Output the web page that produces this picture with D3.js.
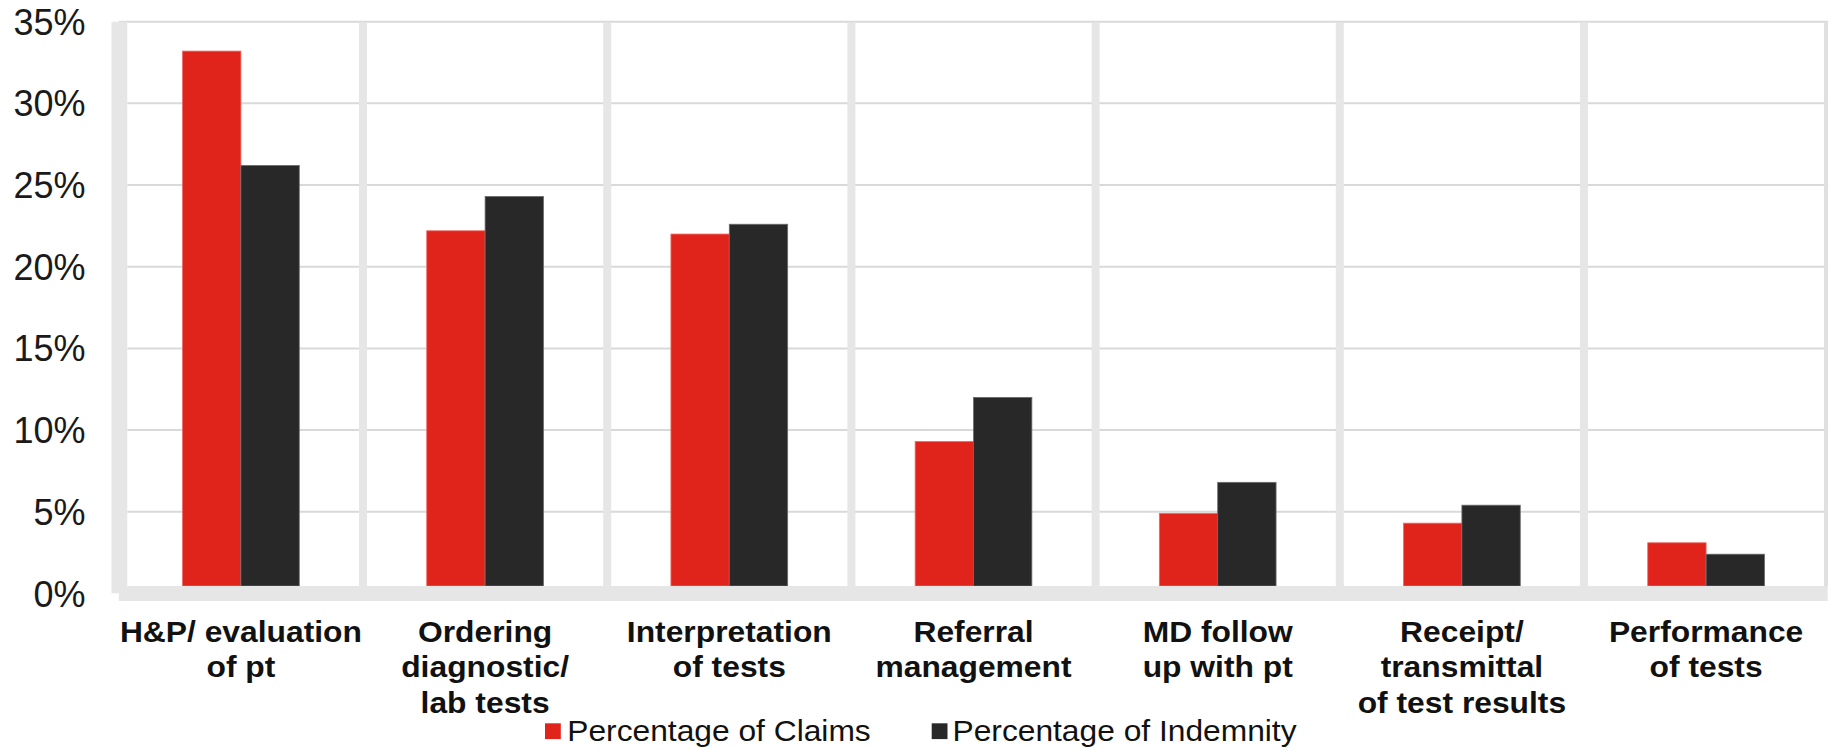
<!DOCTYPE html>
<html>
<head>
<meta charset="utf-8">
<script src="https://cdn.jsdelivr.net/npm/d3@7"></script>
<style>
  html, body { margin: 0; padding: 0; background: #ffffff; }
  svg { display: block; }
  text { font-family: "Liberation Sans", Arial, Helvetica, sans-serif; }
</style>
</head>
<body>
<svg id="chart" width="1829" height="750"></svg>
<script>
// ---- data ----
const categories = [
  ["H&P/ evaluation", "of pt"],
  ["Ordering", "diagnostic/", "lab tests"],
  ["Interpretation", "of tests"],
  ["Referral", "management"],
  ["MD follow", "up with pt"],
  ["Receipt/", "transmittal", "of test results"],
  ["Performance", "of tests"]
];
const claims    = [33.2, 22.2, 22.0, 9.3, 4.9, 4.3, 3.1];
const indemnity = [26.2, 24.3, 22.6, 12.0, 6.8, 5.4, 2.4];
const seriesNames = ["Percentage of Claims", "Percentage of Indemnity"];
const yTicks = [0, 5, 10, 15, 20, 25, 30, 35];

// ---- layout ----
const W = 1829, H = 750;
const plotLeft = 118.8, plotRight = 1828.2;
const yTop = 21.7, yZero = 593.4;
const floorTop = 586, floorBottom = 601;
const wallColor = "#e6e6e6", gridColor = "#d9d9d9";
const colors = ["#e1241b", "#282828"];

const svg = d3.select("#chart");

const x = d3.scaleBand().domain(d3.range(categories.length)).range([plotLeft, plotRight]).padding(0);
const barW = x.bandwidth() * 0.239;
const xs = d3.scaleBand().domain([0, 1]).range([-barW, barW]).padding(0);
const y = d3.scaleLinear().domain([0, 35]).range([yZero, yTop]);

// horizontal gridlines
svg.append("g").selectAll("line")
  .data(yTicks.filter(t => t > 0))
  .join("line")
  .attr("x1", d => d === 35 ? plotLeft : 127.3)
  .attr("x2", plotRight)
  .attr("y1", d => y(d)).attr("y2", d => y(d))
  .attr("stroke", gridColor).attr("stroke-width", 2);

// vertical category dividers
svg.append("g").selectAll("rect")
  .data(d3.range(1, categories.length))
  .join("rect")
  .attr("x", i => x(i) - 4)
  .attr("width", 8)
  .attr("y", y(35) + 1)
  .attr("height", floorTop - y(35) - 1)
  .attr("fill", wallColor);

// right wall edge
svg.append("rect")
  .attr("x", 1824).attr("width", 4)
  .attr("y", y(35)).attr("height", floorTop - y(35))
  .attr("fill", "#e0e0e0");

// bars
const seriesData = [claims, indemnity];
const groups = svg.append("g").selectAll("g")
  .data(categories.map((c, i) => i))
  .join("g")
  .attr("transform", i => `translate(${x(i) + x.bandwidth() / 2},0)`);

groups.selectAll("rect")
  .data(i => seriesData.map((s, k) => ({ k, v: s[i] })))
  .join("rect")
  .attr("x", d => xs(d.k))
  .attr("width", xs.bandwidth())
  .attr("y", d => y(d.v))
  .attr("height", d => floorTop - y(d.v))
  .attr("fill", d => colors[d.k])
  .attr("stroke", d => d.k === 1 ? "#6a6a6a" : "#ec6a63")
  .attr("stroke-width", 0.8);

// floor
svg.append("rect")
  .attr("x", plotLeft).attr("width", plotRight - plotLeft - 0.5)
  .attr("y", floorTop).attr("height", floorBottom - floorTop)
  .attr("fill", wallColor);

// left wall
svg.append("rect")
  .attr("x", 111.5).attr("width", 15.8)
  .attr("y", yTop).attr("height", 593.3 - yTop)
  .attr("fill", wallColor);

// y axis labels
const yAxis = d3.axisLeft(y).tickValues(yTicks).tickFormat(d => d + "%").tickSize(0).tickPadding(0);
const ya = svg.append("g").attr("transform", "translate(85.5,0)").call(yAxis);
ya.select(".domain").remove();
ya.selectAll("text")
  .style("font-family", '"Liberation Sans", Arial, sans-serif')
  .style("font-size", "36px")
  .attr("fill", "#1a1a1a")
  .attr("dy", "0.35em");

// category labels
const lineBase = [641.7, 677.5, 713.3];
const lab = svg.append("g").selectAll("g")
  .data(categories.map((c, i) => ({ c, i })))
  .join("g")
  .attr("transform", d => `translate(${x(d.i) + x.bandwidth() / 2},0) scale(1.06,1)`);
lab.append("text")
  .attr("text-anchor", "middle")
  .style("font-size", "30px")
  .style("font-weight", "bold")
  .attr("fill", "#111")
  .selectAll("tspan")
  .data(d => d.c)
  .join("tspan")
  .attr("x", 0)
  .attr("y", (t, j) => lineBase[j])
  .text(t => t);

// legend
const legendItems = [
  { name: seriesNames[0], color: colors[0], sx: 545, tx: 567.3 },
  { name: seriesNames[1], color: colors[1], sx: 931.7, tx: 952.5 }
];
const lg = svg.append("g").selectAll("g").data(legendItems).join("g");
lg.append("rect")
  .attr("x", d => d.sx).attr("y", 723.3)
  .attr("width", 15.8).attr("height", 15.8)
  .attr("fill", d => d.color);
lg.append("text")
  .attr("transform", d => `translate(${d.tx},740.5) scale(1.095,1)`)
  .style("font-size", "29px")
  .attr("fill", "#111")
  .text(d => d.name);
</script>
</body>
</html>
